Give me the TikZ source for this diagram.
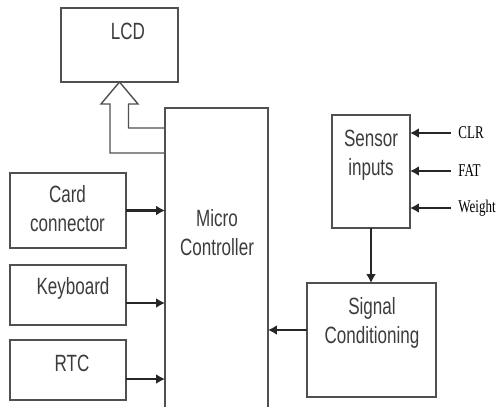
\documentclass[tikz,border=0pt]{standalone}
\usepackage{fontspec}
\setmainfont{Liberation Sans}
\newfontfamily\labelfont{Liberation Serif}
\usetikzlibrary{arrows.meta,calc}
\definecolor{boxgray}{HTML}{505050}
\definecolor{textgray}{HTML}{3C3C3C}
\newcommand{\tall}[1]{\scalebox{1}[1.38]{#1}}
\tikzset{
  blk/.style={draw=boxgray, line width=0.8pt, inner sep=0pt, outer sep=0pt},
  txt/.style={text=textgray, align=center, inner sep=0pt, font=\fontsize{9.7}{16.5}\selectfont},
  sig/.style={text=black, anchor=west, inner xsep=4pt, inner ysep=0pt, font=\labelfont\fontsize{7.4}{8}\selectfont},
  arrow/.style={-{Latex[length=1.8mm,width=2mm]}, line width=1.3pt, draw=black!85}
}
\begin{document}
\begin{tikzpicture}[x=0.02cm, y=-0.02cm]
  \clip (0,0) rectangle (500,406);
  % blocks
  \node[blk, minimum width=2.34cm, minimum height=1.48cm] (lcd) at (119.5,45) {};
  \node[blk, minimum width=2.06cm, minimum height=6.08cm] (mc) at (216.5,260) {};
  \node[blk, minimum width=2.32cm, minimum height=1.5cm] (card) at (68,210.5) {};
  \node[blk, minimum width=2.32cm, minimum height=1.2cm] (keyboard) at (68,295) {};
  \node[blk, minimum width=2.32cm, minimum height=1.2cm] (rtc) at (68,370) {};
  \node[blk, minimum width=1.56cm, minimum height=2.26cm] (sensor) at (371,171.5) {};
  \node[blk, minimum width=2.58cm, minimum height=2.28cm] (signal) at (371.5,340) {};
  % texts
  \node[txt] (lcdtext) at (128,31) {\tall{LCD}};
  \node[txt] (mctext) at (217,233) {\tall{Micro}\\\tall{Controller}};
  \node[txt] (cardtext) at (67.5,209) {\tall{Card}\\\tall{connector}};
  \node[txt] (keyboardtext) at (73,288) {\tall{Keyboard}};
  \node[txt] (rtctext) at (72,363) {\tall{RTC}};
  \node[txt] (sensortext) at (371,155) {\tall{Sensor}\\\tall{inputs}};
  \node[txt] (signaltext) at (372,323) {\tall{Signal}\\\tall{Conditioning}};
  \node[sig] (clr) at (451,133) {\tall{CLR}};
  \node[sig] (fat) at (451,171) {\tall{FAT}};
  \node[sig] (weight) at (451,208) {\tall{Weight}};
  % bus to LCD
  \draw[blk] ($(mc.north west)+(0,45)$) -- (110,153) -- (110,104) -- (101,104)
    -- (lcd.south) -- (138,104) -- (128.5,104) -- (128.5,128) -- ($(mc.north west)+(0,20)$);
  % connectors
  \coordinate (kbout) at ($(keyboard.east)+(0,8)$);
  \coordinate (rtcout) at ($(rtc.east)+(0,9)$);
  \coordinate (sigout) at ($(signal.west)+(0,-10)$);
  \draw[arrow] (card.east) -- (card.east -| mc.west);
  \draw[arrow] (kbout) -- (kbout -| mc.west);
  \draw[arrow] (rtcout) -- (rtcout -| mc.west);
  \draw[arrow] (sigout) -- (sigout -| mc.east);
  \draw[arrow] (sensor.south) -- (sensor.south |- signal.north);
  \foreach \s in {clr,fat,weight}
    \draw[arrow] (\s.west) -- (\s.west -| sensor.east);
\end{tikzpicture}
\end{document}
